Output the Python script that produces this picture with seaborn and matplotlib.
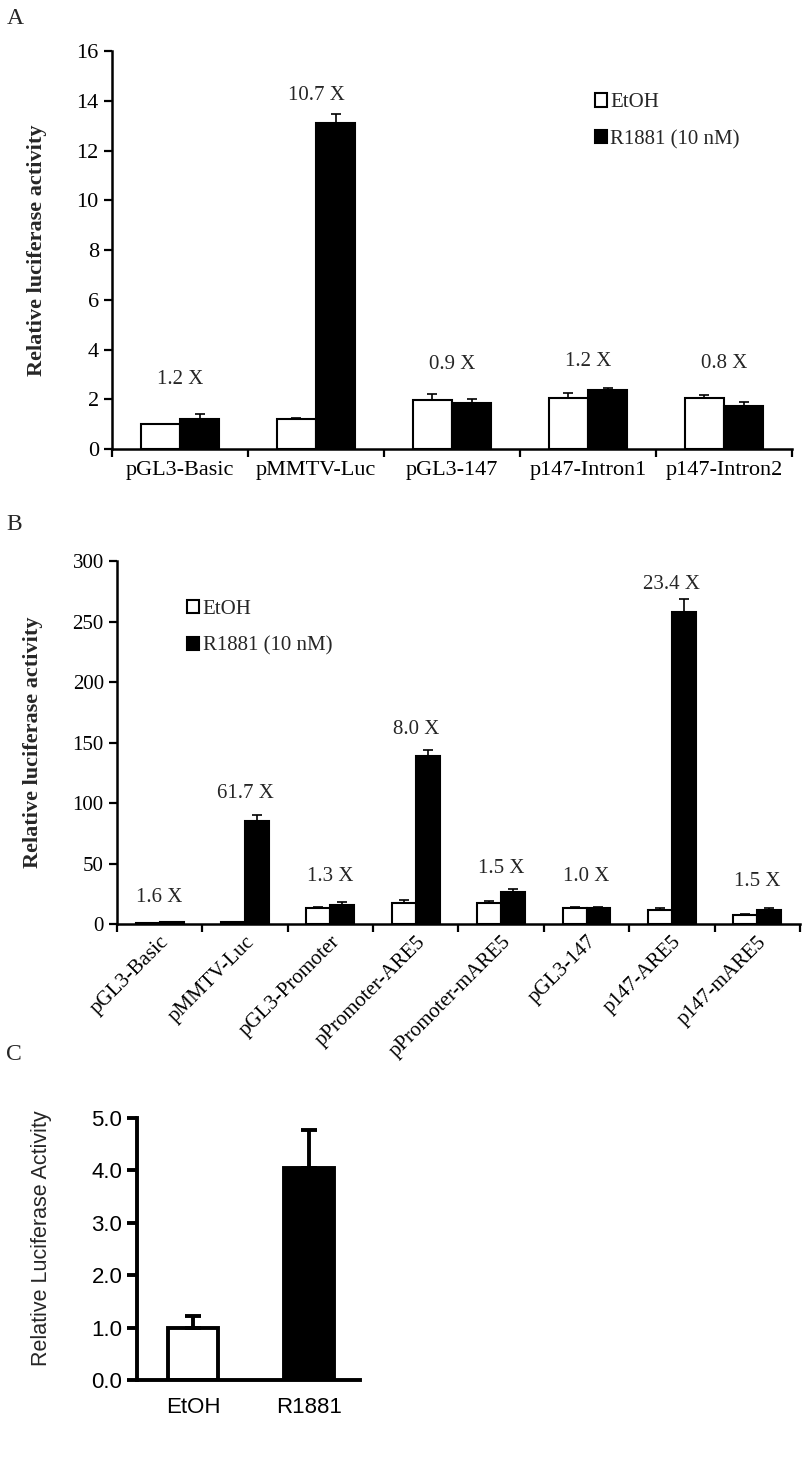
import numpy as np
import pandas as pd
import matplotlib
matplotlib.use('Agg')
import matplotlib.pyplot as plt
from matplotlib.patches import Patch
from matplotlib.ticker import FormatStrFormatter
import seaborn as sns

# ---- panel A data ----
cats_a = ['pGL3-Basic', 'pMMTV-Luc', 'pGL3-147', 'p147-Intron1', 'p147-Intron2']
etoh_a = [1.0, 1.2, 1.95, 2.07, 2.07]
etoh_a_err = [0.0, 0.06, 0.28, 0.17, 0.12]
r1881_a = [1.2, 13.1, 1.83, 2.37, 1.71]
r1881_a_err = [0.22, 0.35, 0.18, 0.07, 0.18]
fold_a = ['1.2 X', '10.7 X', '0.9 X', '1.2 X', '0.8 X']

# ---- panel B data ----
cats_b = ['pGL3-Basic', 'pMMTV-Luc', 'pGL3-Promoter', 'pPromoter-ARE5',
          'pPromoter-mARE5', 'pGL3-147', 'p147-ARE5', 'p147-mARE5']
etoh_b = [1.0, 1.4, 13.5, 17.6, 17.6, 13.3, 11.6, 7.4]
etoh_b_err = [0.2, 0.3, 0.5, 2.4, 1.3, 0.6, 1.3, 0.5]
r1881_b = [1.6, 85.0, 16.0, 138.5, 26.5, 13.6, 258.0, 11.3]
r1881_b_err = [0.3, 5.5, 2.0, 5.0, 2.5, 0.6, 11.0, 1.7]
fold_b = ['1.6 X', '61.7 X', '1.3 X', '8.0 X', '1.5 X', '1.0 X', '23.4 X', '1.5 X']

# ---- panel C data ----
groups_c = ['EtOH', 'R1881']
values_c = [1.0, 4.05]
err_c = [0.22, 0.72]

treatments = ['EtOH', 'R1881 (10 nM)']

sns.set_theme(style='ticks')
plt.rcParams['font.family'] = ['Liberation Serif', 'DejaVu Serif']
plt.rcParams['axes.edgecolor'] = 'black'
plt.rcParams['xtick.color'] = 'black'
plt.rcParams['ytick.color'] = 'black'

fig = plt.figure(figsize=(8.05, 14.63), dpi=100)
ax_a = fig.add_axes([0.1391, 0.6931, 0.8447, 0.2720])
ax_b = fig.add_axes([0.1453, 0.3684, 0.8484, 0.2481])
ax_c = fig.add_axes([0.1702, 0.0567, 0.2770, 0.1791])


def grouped_bars(ax, cats, etoh, etoh_err, r1881, r1881_err, width):
    n = len(cats)
    df = pd.DataFrame({'construct': cats * 2,
                       'treatment': [treatments[0]] * n + [treatments[1]] * n,
                       'value': etoh + r1881})
    sns.barplot(data=df, x='construct', y='value', hue='treatment',
                order=cats, hue_order=treatments,
                palette={treatments[0]: 'white', treatments[1]: 'black'},
                edgecolor='black', linewidth=1.5, width=width, gap=0,
                saturation=1, errorbar=None, legend=False, ax=ax)
    for cont, errs in zip(ax.containers, [etoh_err, r1881_err]):
        xs = [b.get_x() + b.get_width() / 2 for b in cont]
        ys = [b.get_height() for b in cont]
        ax.errorbar(xs, ys, yerr=[np.zeros(len(errs)), errs], fmt='none',
                    ecolor='black', elinewidth=1.2, capsize=3.5, capthick=1.2)
    ax.set_xlim(-0.5, n - 0.5)
    ax.set_xticks(np.arange(n))
    ax.set_xticks(np.arange(-0.5, n), minor=True)
    ax.tick_params(axis='x', which='minor', length=6, width=1.6, direction='out')
    ax.tick_params(axis='y', length=6, width=1.6, direction='out', labelsize=15)
    ax.set_xlabel('')
    for s in ['left', 'bottom']:
        ax.spines[s].set_linewidth(1.8)
    sns.despine(ax=ax)
    ax.legend(handles=[Patch(facecolor='white', edgecolor='black', linewidth=1.5, label=treatments[0]),
                       Patch(facecolor='black', edgecolor='black', linewidth=1.5, label=treatments[1])],
              frameon=False, fontsize=15, handlelength=0.6, handleheight=0.6,
              handletextpad=0.15, labelspacing=0.85, borderpad=0, borderaxespad=0,
              loc='upper left')


# ---- panel A ----
grouped_bars(ax_a, cats_a, etoh_a, etoh_a_err, r1881_a, r1881_a_err, 0.58)
ax_a.set_ylim(0, 16)
ax_a.set_yticks(np.arange(0, 17, 2))
ax_a.tick_params(axis='y', labelsize=16)
ax_a.tick_params(axis='x', which='major', length=0, pad=9, labelsize=16)
ax_a.set_ylabel('Relative luciferase activity', fontsize=16, fontweight='bold')
ax_a.yaxis.set_label_coords(-0.095, 0.5)
ax_a.get_legend().set_bbox_to_anchor((0.71, 0.894))
label_y_a = [2.8, 14.2, 3.4, 3.5, 3.45]
for i, (txt, yy) in enumerate(zip(fold_a, label_y_a)):
    ax_a.text(i, yy, txt, ha='center', va='center', fontsize=15)

# ---- panel B ----
grouped_bars(ax_b, cats_b, etoh_b, etoh_b_err, r1881_b, r1881_b_err, 0.56)
ax_b.set_ylim(0, 300)
ax_b.set_yticks(np.arange(0, 301, 50))
ax_b.tick_params(axis='x', which='major', length=0, pad=6, labelsize=15)
plt.setp(ax_b.get_xticklabels(), rotation=45, ha='right', rotation_mode='anchor')
ax_b.set_ylabel('Relative luciferase activity', fontsize=16, fontweight='bold')
ax_b.yaxis.set_label_coords(-0.108, 0.5)
ax_b.get_legend().set_bbox_to_anchor((0.1025, 0.893))
label_y_b = [22, 108, 39, 161, 46, 39, 281, 35]
for i, (txt, yy) in enumerate(zip(fold_b, label_y_b)):
    ax_b.text(i, yy, txt, ha='center', va='center', fontsize=15)

# ---- panel C ----
sns.barplot(x=groups_c, y=values_c, hue=groups_c, palette=['white', 'black'],
            edgecolor='black', linewidth=2.8, width=0.43, saturation=1,
            errorbar=None, legend=False, ax=ax_c)
for bar, e in zip(ax_c.patches, err_c):
    ax_c.errorbar(bar.get_x() + bar.get_width() / 2, bar.get_height(),
                  yerr=[[0], [e]], fmt='none', ecolor='black',
                  elinewidth=2.8, capsize=5.5, capthick=2.8)
ax_c.set_xlim(-0.483, 1.44)
ax_c.set_ylim(0, 5)
ax_c.set_yticks(np.arange(0, 6))
ax_c.yaxis.set_major_formatter(FormatStrFormatter('%.1f'))
ax_c.tick_params(axis='y', length=7, width=2.8, direction='out', labelsize=16)
ax_c.tick_params(axis='x', length=0, pad=12, labelsize=16)
for s in ['left', 'bottom']:
    ax_c.spines[s].set_linewidth(2.8)
sns.despine(ax=ax_c)
for lbl in ax_c.get_xticklabels() + ax_c.get_yticklabels():
    lbl.set_fontfamily('Liberation Sans')
ax_c.set_ylabel('Relative Luciferase Activity', fontsize=15.5,
                fontfamily='Liberation Sans')
ax_c.yaxis.set_label_coords(-0.38, 0.54)

# panel letters
fig.text(0.008, 1 - 18 / 1463, 'A', fontsize=17, va='center')
fig.text(0.008, 1 - 525 / 1463, 'B', fontsize=17, va='center')
fig.text(0.008, 1 - 1055 / 1463, 'C', fontsize=17, va='center')

fig.savefig('out.png', dpi=100)
